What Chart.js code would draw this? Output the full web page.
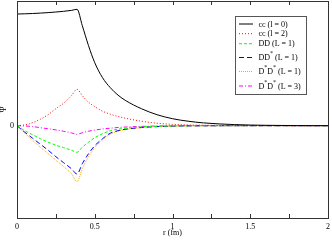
<!DOCTYPE html>
<html>
<head>
<meta charset="utf-8">
<script src="https://cdn.jsdelivr.net/npm/chart.js@4"></script>
<style>
html,body{margin:0;padding:0;background:#fff;}
canvas{display:block;}
</style>
</head>
<body>
<canvas id="c" width="332" height="240"></canvas>
<script>
// ---- data ----
const rVals = [0, 0.05, 0.1, 0.15, 0.2, 0.25, 0.3, 0.35, 0.386, 0.42, 0.46, 0.5, 0.55, 0.6, 0.65, 0.7, 0.8, 0.9, 1.0, 1.1, 1.2, 1.4, 1.6, 1.8, 2.0];
const cc0   = [1.117, 1.119, 1.122, 1.126, 1.131, 1.137, 1.144, 1.153, 1.164, 1.00, 0.80, 0.63, 0.48, 0.38, 0.305, 0.25, 0.17, 0.11, 0.07, 0.045, 0.028, 0.011, 0.004, 0.001, 0];
const cc2   = [0, 0.008, 0.03, 0.065, 0.11, 0.17, 0.225, 0.30, 0.364, 0.30, 0.235, 0.19, 0.145, 0.115, 0.092, 0.074, 0.045, 0.025, 0.014, 0.008, 0.005, 0.002, 0.001, 0, 0];
const ddL1  = [0, -0.05, -0.09, -0.13, -0.165, -0.195, -0.22, -0.245, -0.266, -0.215, -0.165, -0.12, -0.08, -0.05, -0.035, -0.025, -0.012, -0.006, -0.003, -0.001, 0, 0, 0, 0, 0];
const ddsL1 = [0, -0.065, -0.125, -0.185, -0.245, -0.31, -0.37, -0.43, -0.483, -0.38, -0.28, -0.2, -0.13, -0.075, -0.05, -0.035, -0.018, -0.009, -0.004, -0.002, -0.001, 0, 0, 0, 0];
const dsdsL1= [0, -0.075, -0.145, -0.215, -0.28, -0.345, -0.41, -0.48, -0.56, -0.43, -0.31, -0.22, -0.14, -0.085, -0.055, -0.038, -0.02, -0.01, -0.005, -0.002, -0.001, 0, 0, 0, 0];
const dsdsL3= [0, -0.003, -0.008, -0.02, -0.03, -0.042, -0.056, -0.072, -0.086, -0.07, -0.055, -0.044, -0.033, -0.025, -0.018, -0.013, -0.007, -0.003, -0.001, 0, 0, 0, 0, 0, 0];
const seriesLabels = ['cc (l = 0)', 'cc (l = 2)', 'DD (L = 1)', 'DD* (L = 1)', 'D*D* (L = 1)', 'D*D* (L = 3)'];
const xTicks = [0, 0.5, 1, 1.5, 2];
const xTickLabels = ['0', '0.5', '1', '1.5', '2'];
const xMinorTicks = [0, 0.25, 0.5, 0.75, 1, 1.25, 1.5, 1.75, 2];
const yTicks = [0];
const yTickLabels = ['0'];
const xTitle = 'r (fm)';
const yTitle = 'Ψ';

const FONT = 'Liberation Serif';
const toPts = ys => rVals.map((r, i) => ({x: r, y: ys[i]}));
const styles = [
  {color: '#000000', dash: []},
  {color: '#ff0000', dash: [1, 2]},
  {color: '#00ff00', dash: [3, 2]},
  {color: '#0000ff', dash: [5, 3]},
  {color: '#ffa500', dash: [1, 1]},
  {color: '#ff00ff', dash: [4, 2, 1, 2]}
];
const allSeries = [cc0, cc2, ddL1, ddsL1, dsdsL1, dsdsL3];
const datasets = allSeries.map((s, i) => ({
  label: seriesLabels[i],
  data: toPts(s),
  borderColor: styles[i].color,
  borderDash: styles[i].dash,
  borderWidth: 1,
  pointRadius: 0,
  cubicInterpolationMode: 'monotone',
  fill: false
}));

const framePlugin = {
  id: 'frame',
  afterDraw(chart) {
    const ctx = chart.ctx, a = chart.chartArea, xs = chart.scales.x;
    ctx.save();
    ctx.strokeStyle = '#333';
    ctx.lineWidth = 1;
    ctx.setLineDash([]);
    ctx.strokeRect(Math.round(a.left) + 0.5, Math.round(a.top) + 0.5, Math.round(a.right - a.left), Math.round(a.bottom - a.top));
    ctx.beginPath();
    xMinorTicks.forEach(v => {
      const px = Math.round(xs.getPixelForValue(v)) + 0.5;
      ctx.moveTo(px, a.bottom); ctx.lineTo(px, a.bottom - 4);
      ctx.moveTo(px, a.top); ctx.lineTo(px, a.top + 4);
    });
    ctx.stroke();

    // legend
    const bx = 235.5, by = 16.5, bw = 71, bh = 78;
    ctx.fillStyle = '#fff';
    ctx.fillRect(bx, by, bw, bh);
    ctx.strokeStyle = '#555';
    ctx.strokeRect(bx, by, bw, bh);
    const rows = [24, 33.7, 43.7, 57.5, 71.5, 86];
    chart.data.datasets.forEach((ds, i) => {
      const y = rows[i];
      ctx.strokeStyle = ds.borderColor;
      ctx.setLineDash(ds.borderDash);
      ctx.lineWidth = 1;
      ctx.beginPath();
      ctx.moveTo(239, y); ctx.lineTo(253, y);
      ctx.stroke();
      ctx.setLineDash([]);
      let tx = 258.5;
      ctx.fillStyle = '#000';
      ctx.textBaseline = 'middle';
      for (const ch of ds.label) {
        if (ch === '*') {
          ctx.font = '6px "' + FONT + '"';
          ctx.fillText('*', tx, y - 4);
          tx += ctx.measureText('*').width;
        } else {
          ctx.font = '8px "' + FONT + '"';
          ctx.fillText(ch, tx, y + 0.5);
          tx += ctx.measureText(ch).width;
        }
      }
    });
    ctx.restore();
  }
};

new Chart(document.getElementById('c'), {
  type: 'line',
  data: {datasets},
  plugins: [framePlugin],
  options: {
    responsive: false,
    animation: false,
    devicePixelRatio: 1,
    layout: {padding: {top: 1, right: 4, bottom: 0, left: 0}},
    plugins: {legend: {display: false}, tooltip: {enabled: false}},
    scales: {
      x: {
        type: 'linear', min: 0, max: 2,
        afterBuildTicks: s => { s.ticks = xTicks.map(v => ({value: v})); },
        afterFit: s => { s.height = 22; s.paddingLeft = 0; s.paddingRight = 0; },
        grid: {display: false, drawTicks: false},
        border: {display: false},
        ticks: {
          padding: 4, color: '#000', maxRotation: 0,
          font: {family: FONT, size: 8},
          callback: (v, i) => xTickLabels[i]
        },
        title: {display: true, text: xTitle, color: '#000', font: {family: FONT, size: 8}, padding: {top: 0, bottom: 2}}
      },
      y: {
        type: 'linear', min: -0.923, max: 1.247,
        afterBuildTicks: s => { s.ticks = yTicks.map(v => ({value: v})); },
        afterFit: s => { s.width = 17; s.paddingTop = 0; s.paddingBottom = 0; },
        grid: {display: false, drawTicks: false},
        border: {display: false},
        ticks: {
          padding: 3, color: '#000',
          font: {family: FONT, size: 8},
          callback: (v, i) => yTickLabels[i]
        },
        title: {display: true, text: yTitle, color: '#000', font: {family: FONT, size: 8}, padding: {top: -1, bottom: 0}}
      }
    }
  }
});
</script>
</body>
</html>
